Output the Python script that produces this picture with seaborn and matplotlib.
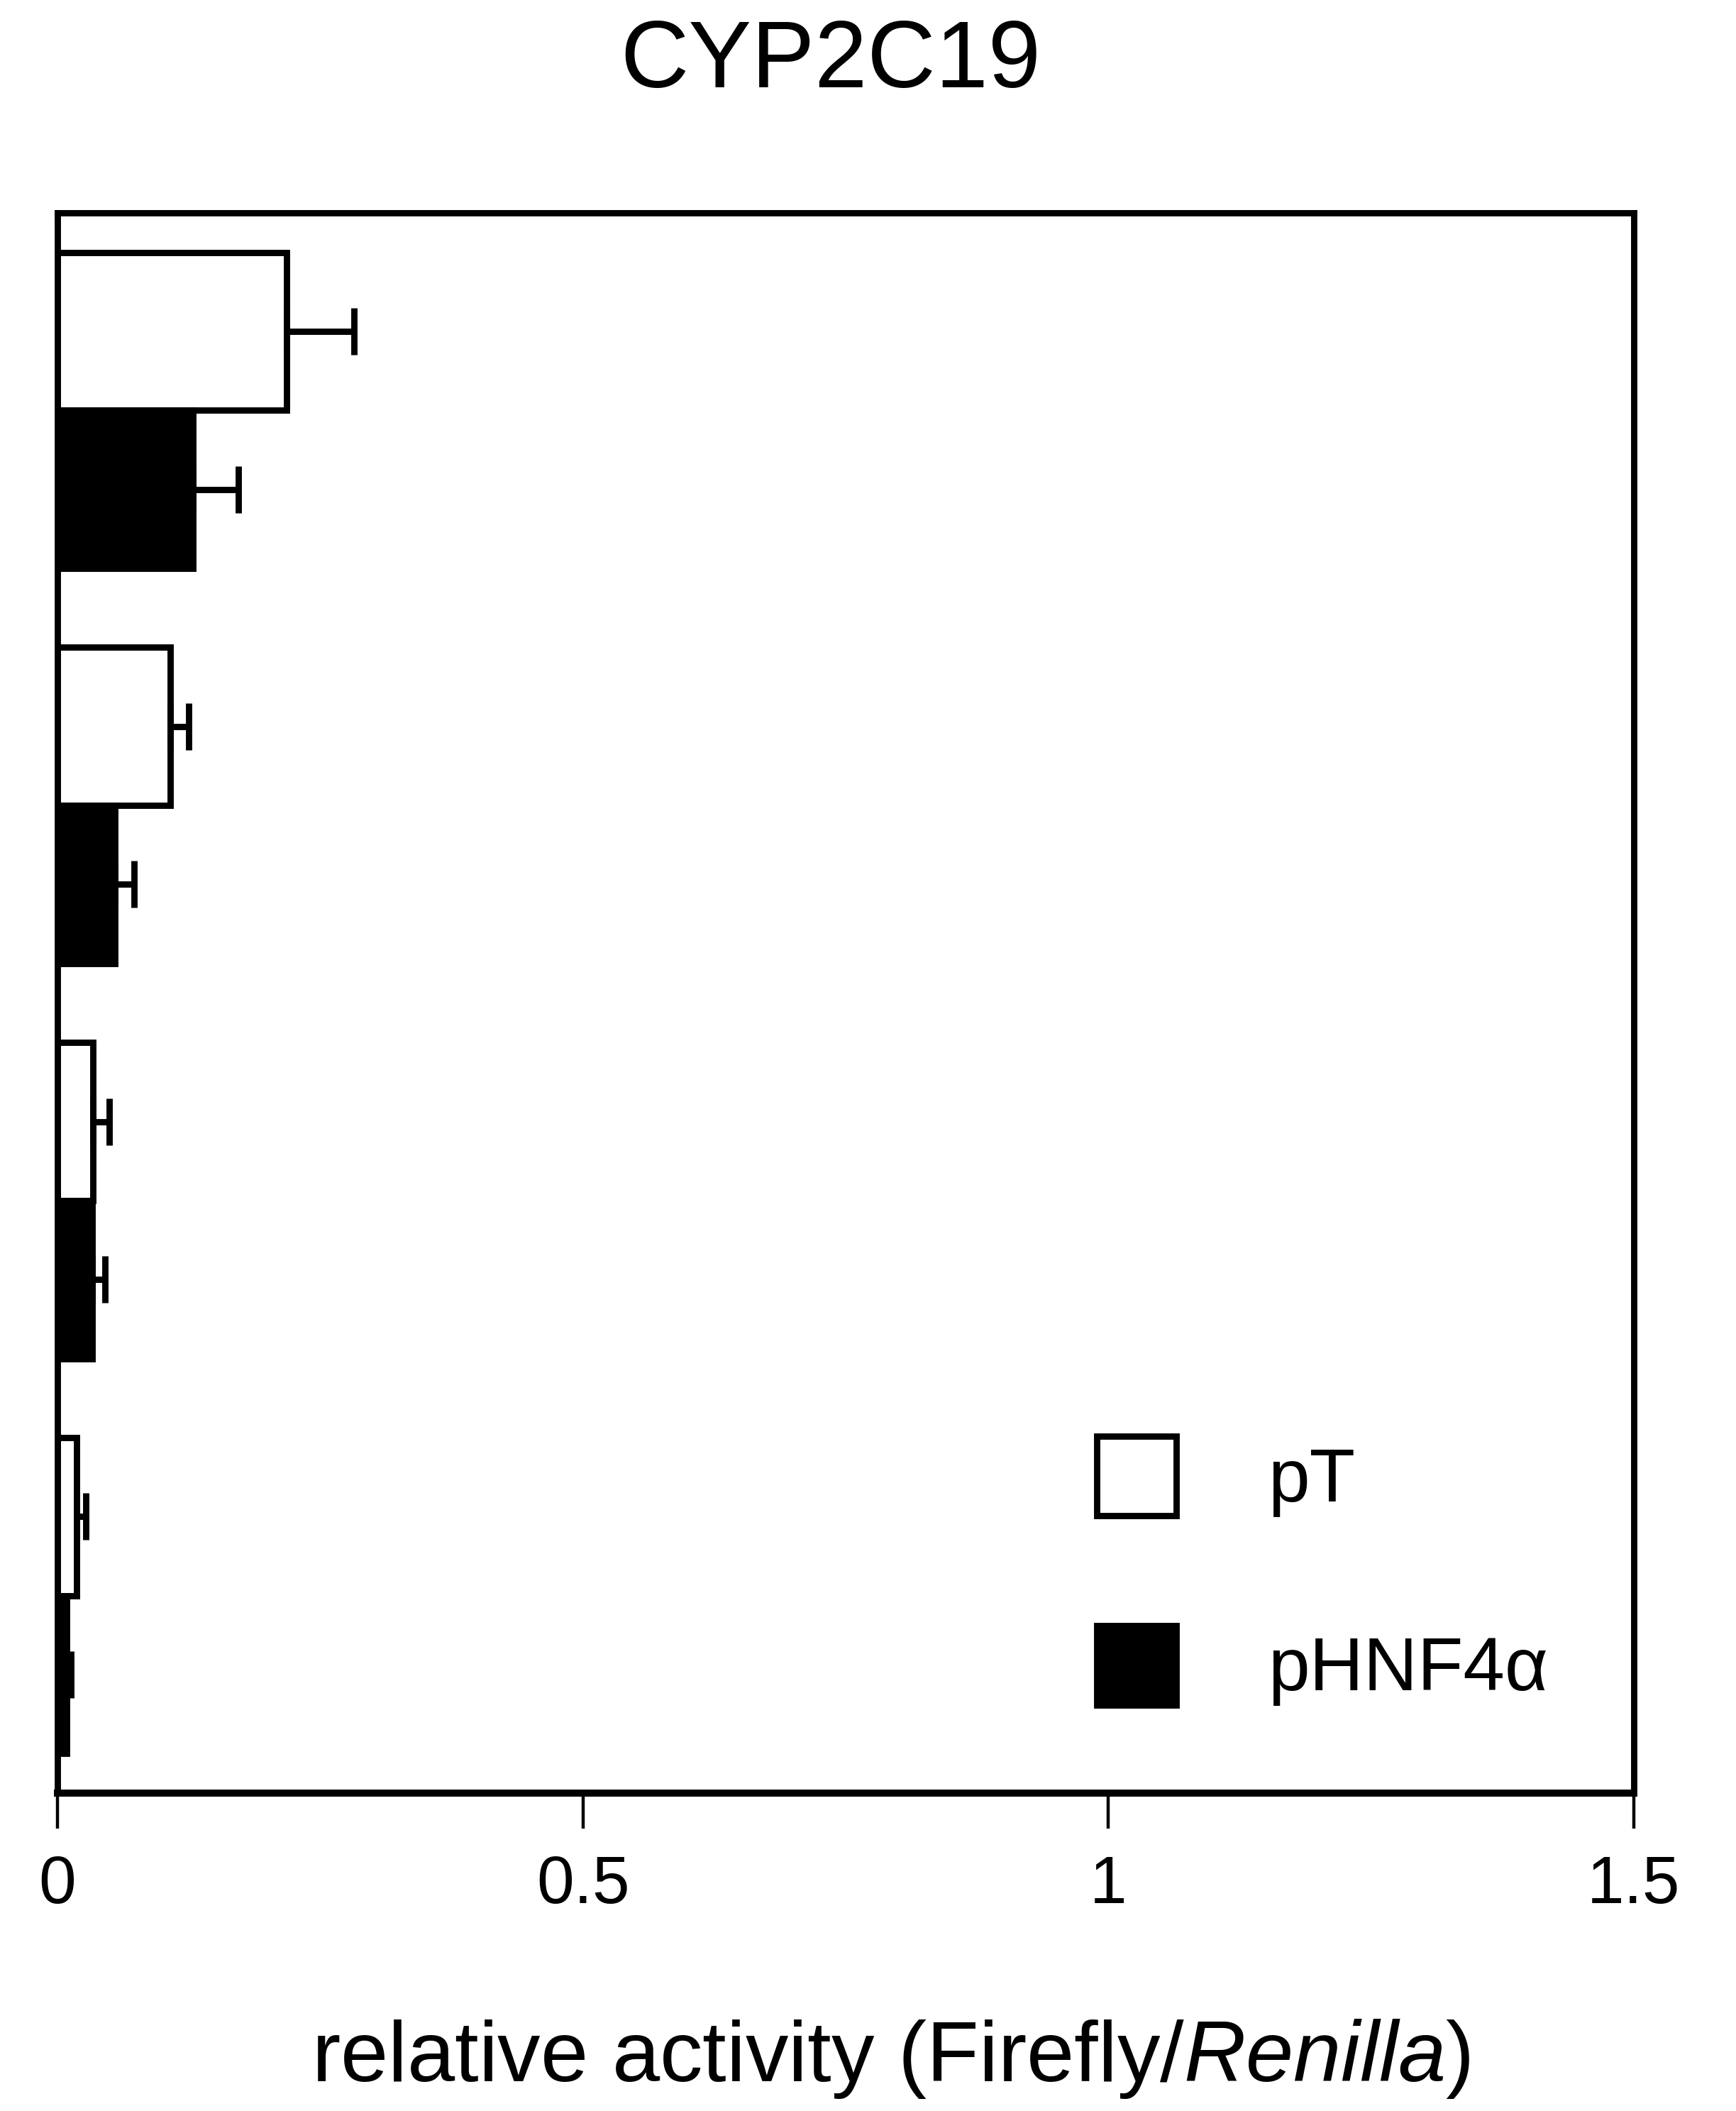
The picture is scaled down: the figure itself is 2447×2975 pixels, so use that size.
import matplotlib
matplotlib.use("Agg")
import matplotlib.pyplot as plt
from matplotlib.patches import Patch
import seaborn as sns
import pandas as pd
import numpy as np

# valeurs
constructs = ["construct 1", "construct 2", "construct 3", "construct 4"]
conditions = ["pT", "pHNF4\u03b1"]
pT_mean = [0.218, 0.107, 0.034, 0.018]
pT_sd = [0.064, 0.018, 0.015, 0.009]
hnf_mean = [0.129, 0.055, 0.033, 0.009]
hnf_sd = [0.043, 0.018, 0.012, 0.004]
colors = ["white", "black"]
xticks = [0, 0.5, 1, 1.5]
xticklabels = ["0", "0.5", "1", "1.5"]

df = pd.DataFrame({
    "construct": constructs * 2,
    "condition": [conditions[0]] * 4 + [conditions[1]] * 4,
    "value": pT_mean + hnf_mean,
})
sds = [pT_sd, hnf_sd]

sns.set_style("white")
plt.rcParams["font.family"] = ["Liberation Sans", "DejaVu Sans"]
plt.rcParams["text.color"] = "black"
plt.rcParams["xtick.color"] = "black"
plt.rcParams["axes.labelcolor"] = "black"
plt.rcParams["mathtext.fontset"] = "custom"
plt.rcParams["mathtext.rm"] = "Liberation Sans"
plt.rcParams["mathtext.it"] = "Liberation Sans:italic"

W, H = 2447, 2975
fig = plt.figure(figsize=(W / 200, H / 200), dpi=200)
ax = fig.add_axes([81 / W, 1 - 2527 / H, (2303 - 81) / W, (2527 - 300) / H])

lw = 3.2
sns.barplot(data=df, x="value", y="construct", hue="condition", orient="h",
            palette=colors, edgecolor="black", linewidth=lw, width=0.8,
            saturation=1, legend=False, ax=ax)

# barres d'erreur (côté positif seulement)
for cont, sd in zip(ax.containers, sds):
    for bar, s in zip(cont, sd):
        yc = bar.get_y() + bar.get_height() / 2
        xr = bar.get_width()
        ax.errorbar(xr, yc, xerr=[[0], [s]], fmt="none", ecolor="black",
                    elinewidth=lw, capsize=12, capthick=lw, zorder=5)

ax.set_xlim(0, 1.5)
ax.set_ylim(3.5, -0.5)
ax.set_yticks([])
ax.set_ylabel("")
ax.set_xticks(xticks)
ax.set_xticklabels(xticklabels, fontsize=34)
ax.tick_params(axis="x", direction="out", length=18, width=1.6, pad=13,
               bottom=True, color="black", labelcolor="black")
for sp in ax.spines.values():
    sp.set_visible(True)
    sp.set_color("black")
    sp.set_linewidth(lw)
ax.spines["bottom"].set_linewidth(3.6)

ax.set_xlabel("relative activity (Firefly/$\\it{Renilla}$)", fontsize=43.5,
              va="center", color="black")
ax.xaxis.set_label_coords((1256 - 81) / 2222, (2527 - 2902) / 2227)

fig.text(1171 / W, 1 - 88 / H, "CYP2C19", fontsize=48, ha="center", va="center",
         color="black")

handles = [Patch(facecolor=c, edgecolor="black", linewidth=lw) for c in colors]
ax.legend(handles, conditions, loc="upper left",
          bbox_to_anchor=(1546 / W, 1 - 2024 / H), bbox_transform=fig.transFigure,
          frameon=False, fontsize=38, handlelength=1.065, handleheight=1.26,
          labelspacing=1.45, handletextpad=1.22, borderpad=0, borderaxespad=0)

fig.savefig("out.png", dpi=200, facecolor="white")
plt.close(fig)
